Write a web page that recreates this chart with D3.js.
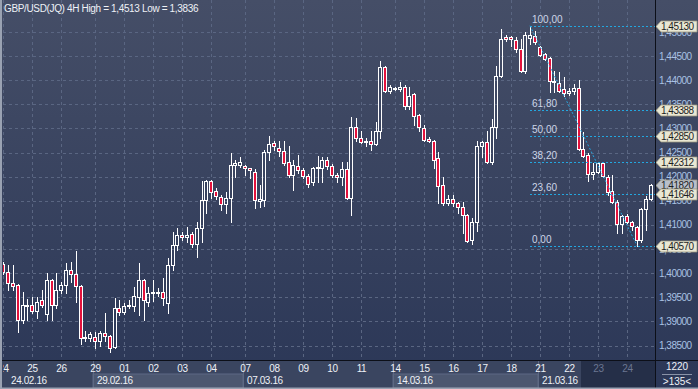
<!DOCTYPE html>
<html>
<head>
<meta charset="utf-8">
<script src="https://cdnjs.cloudflare.com/ajax/libs/d3/7.8.5/d3.min.js"></script>
<style>
html, body { margin: 0; padding: 0; background: #2e3a56; }
svg { display: block; font-family: "Liberation Sans", Arial, sans-serif; }
</style>
</head>
<body>
<div id="chart"></div>
<script>
// GBP/USD 4H candles
const opens = [
  1.4019,1.4002,1.3979,1.3975,1.3902,1.3933,1.3933,1.3921,1.3944,1.3915,
  1.3985,1.3933,1.3965,1.3975,1.4006,1.3998,1.3973,1.3867,1.3865,1.3867,
  1.3860,1.3875,1.3869,1.3846,1.3927,1.3919,1.3931,1.3931,1.3950,1.3985,
  1.3940,1.3960,1.3960,1.3960,1.3938,1.4017,1.4058,1.4079,1.4075,1.4081,
  1.4060,1.4094,1.4152,1.4192,1.4171,1.4158,1.4144,1.4156,1.4225,1.4225,
  1.4223,1.4217,1.4210,1.4150,1.4152,1.4252,1.4269,1.4260,1.4254,1.4231,
  1.4204,1.4223,1.4213,1.4202,1.4188,1.4219,1.4219,1.4235,1.4223,1.4204,
  1.4200,1.4215,1.4156,1.4302,1.4281,1.4273,1.4275,1.4267,1.4294,1.4427,
  1.4377,1.4383,1.4381,1.4387,1.4346,1.4371,1.4327,1.4300,1.4279,1.4273,
  1.4238,1.4183,1.4146,1.4154,1.4146,1.4138,1.4121,1.4069,1.4106,1.4263,
  1.4271,1.4231,1.4302,1.4408,1.4490,1.4490,1.4483,1.4465,1.4419,1.4488,
  1.4492,1.4469,1.4454,1.4446,1.4396,1.4394,1.4381,1.4373,1.4377,1.4383,
  1.4258,1.4246,1.4206,1.4210,1.4229,1.4200,1.4171,1.4148,1.4102,1.4119,
  1.4106,1.4096,1.4069,1.4133,1.4154
];
const highs = [
  1.4023,1.4017,1.4017,1.3977,1.3960,1.3946,1.3950,1.3950,1.3965,1.4000,
  1.3987,1.4000,1.3981,1.4021,1.4023,1.4046,1.3975,1.3881,1.3879,1.3877,
  1.3881,1.3917,1.3871,1.3948,1.3944,1.3938,1.3944,1.3971,1.4021,1.3987,
  1.3971,1.3985,1.3969,1.3990,1.4031,1.4085,1.4094,1.4085,1.4096,1.4085,
  1.4106,1.4192,1.4194,1.4194,1.4177,1.4163,1.4169,1.4250,1.4235,1.4240,
  1.4225,1.4219,1.4215,1.4183,1.4256,1.4285,1.4273,1.4273,1.4273,1.4263,
  1.4235,1.4246,1.4217,1.4206,1.4221,1.4242,1.4240,1.4240,1.4227,1.4208,
  1.4231,1.4231,1.4323,1.4321,1.4294,1.4281,1.4294,1.4313,1.4440,1.4429,
  1.4390,1.4387,1.4396,1.4390,1.4385,1.4373,1.4329,1.4308,1.4283,1.4277,
  1.4252,1.4200,1.4163,1.4163,1.4148,1.4148,1.4123,1.4115,1.4273,1.4273,
  1.4294,1.4319,1.4429,1.4506,1.4494,1.4492,1.4490,1.4485,1.4500,1.4513,
  1.4502,1.4471,1.4456,1.4448,1.4419,1.4417,1.4406,1.4383,1.4392,1.4400,
  1.4292,1.4250,1.4229,1.4231,1.4231,1.4204,1.4204,1.4152,1.4121,1.4123,
  1.4108,1.4098,1.4135,1.4160,1.4185
];
const lows = [
  1.3998,1.3965,1.3965,1.3879,1.3896,1.3902,1.3917,1.3908,1.3929,1.3902,
  1.3902,1.3927,1.3958,1.3958,1.3981,1.3940,1.3854,1.3860,1.3860,1.3844,
  1.3850,1.3860,1.3836,1.3844,1.3913,1.3915,1.3927,1.3921,1.3913,1.3902,
  1.3931,1.3942,1.3952,1.3933,1.3917,1.4006,1.4048,1.4069,1.4065,1.4054,
  1.4033,1.4065,1.4125,1.4156,1.4154,1.4131,1.4125,1.4106,1.4200,1.4221,
  1.4204,1.4198,1.4135,1.4138,1.4140,1.4235,1.4256,1.4242,1.4225,1.4200,
  1.4173,1.4208,1.4198,1.4179,1.4183,1.4188,1.4190,1.4215,1.4200,1.4190,
  1.4183,1.4154,1.4121,1.4275,1.4269,1.4263,1.4256,1.4265,1.4281,1.4375,
  1.4373,1.4379,1.4377,1.4340,1.4340,1.4308,1.4294,1.4273,1.4271,1.4219,
  1.4146,1.4142,1.4142,1.4140,1.4125,1.4083,1.4065,1.4060,1.4088,1.4240,
  1.4229,1.4227,1.4281,1.4406,1.4481,1.4471,1.4458,1.4417,1.4415,1.4475,
  1.4475,1.4450,1.4442,1.4375,1.4375,1.4375,1.4367,1.4369,1.4371,1.4256,
  1.4240,1.4192,1.4196,1.4208,1.4200,1.4163,1.4146,1.4083,1.4083,1.4104,
  1.4090,1.4057,1.4065,1.4090,1.4152
];
const closes = [
  1.4002,1.3979,1.3973,1.3902,1.3933,1.3935,1.3921,1.3940,1.3935,1.3985,
  1.3933,1.3965,1.3975,1.4006,1.3998,1.3973,1.3865,1.3866,1.3873,1.3860,
  1.3875,1.3869,1.3844,1.3927,1.3919,1.3931,1.3933,1.3952,1.3985,1.3944,
  1.3958,1.3961,1.3961,1.3948,1.4017,1.4058,1.4079,1.4075,1.4079,1.4060,
  1.4094,1.4152,1.4192,1.4169,1.4160,1.4144,1.4156,1.4225,1.4229,1.4231,
  1.4217,1.4213,1.4152,1.4153,1.4252,1.4267,1.4263,1.4254,1.4229,1.4204,
  1.4225,1.4213,1.4202,1.4185,1.4219,1.4220,1.4235,1.4223,1.4204,1.4200,
  1.4215,1.4156,1.4302,1.4281,1.4271,1.4274,1.4267,1.4294,1.4427,1.4377,
  1.4385,1.4384,1.4387,1.4346,1.4367,1.4325,1.4304,1.4277,1.4273,1.4235,
  1.4181,1.4146,1.4154,1.4146,1.4138,1.4121,1.4067,1.4106,1.4263,1.4271,
  1.4231,1.4302,1.4408,1.4485,1.4485,1.4485,1.4465,1.4419,1.4494,1.4494,
  1.4479,1.4452,1.4444,1.4398,1.4398,1.4377,1.4373,1.4377,1.4383,1.4258,
  1.4242,1.4206,1.4210,1.4229,1.4202,1.4169,1.4148,1.4102,1.4119,1.4106,
  1.4098,1.4069,1.4133,1.4154,1.4182
];

const yTicks = [1.385,1.39,1.395,1.40,1.405,1.41,1.415,1.42,1.425,1.43,1.435,1.44,1.445,1.45];

const dayLabels = ["24","25","26","29","01","02","03","04","07","08","09","10","11","14","15","16","17","18","21","22","23","24"];
const dayIndex  = [0,6,12,19,25,31,37,43,50,56,62,68,74,81,87,93,99,105,111,117,123,129];

const weekLabels = ["24.02.16","29.02.16","07.03.16","14.03.16","21.03.16"];
const weekIndex  = [0,19,50,81,111];

// fibonacci retracement drawn from the high candle to the low candle
const fibNames  = ["100,00","61,80","50,00","38,20","23,60","0,00"];
const fibPrices = [1.45130,1.43388,1.42850,1.42312,1.41646,1.40570];
const fibFrom = 109, fibTo = 131;
const lastPrice = 1.41820;
const scrollFrom = 120;

const W = 698, H = 389;
const plotL = 3, plotR = 655, plotB = 360;

const svg = d3.select("#chart").append("svg")
  .attr("width", W)
  .attr("height", H);

const defs = svg.append("defs");
const grad = defs.append("linearGradient")
  .attr("id", "bg")
  .attr("x1", 0).attr("y1", 0).attr("x2", 0).attr("y2", 1);
grad.append("stop").attr("offset", "0%").attr("stop-color", "#454e67");
grad.append("stop").attr("offset", "100%").attr("stop-color", "#2b3757");

defs.append("clipPath").attr("id", "plotClip")
  .append("rect")
  .attr("x", plotL).attr("y", 0)
  .attr("width", plotR - plotL).attr("height", plotB);

defs.append("clipPath").attr("id", "axisClip")
  .append("rect")
  .attr("x", plotL).attr("y", plotB)
  .attr("width", plotR - plotL).attr("height", H - plotB);

svg.append("rect")
  .attr("width", W).attr("height", H)
  .attr("fill", "url(#bg)");

const x = d3.scaleBand()
  .domain(d3.range(closes.length))
  .range([0.9, 653.5]);
const cx = i => Math.round(x(i) + x.bandwidth() / 2);
const y = d3.scaleLinear()
  .domain([1.385, 1.45])
  .range([345.5, 32]);
const py = v => Math.round(y(v));

const fmt = d3.format(".5f");
const comma = v => fmt(v).replace(".", ",");

// grid
const grid = svg.append("g")
  .attr("clip-path", "url(#plotClip)")
  .attr("stroke", "#5a6682")
  .attr("stroke-dasharray", "3,3")
  .attr("stroke-width", 1);

grid.selectAll("line.h")
  .data(yTicks)
  .enter()
  .append("line")
  .attr("class", "h")
  .attr("x1", plotL).attr("x2", plotR)
  .attr("y1", d => py(d) + 0.5)
  .attr("y2", d => py(d) + 0.5);

grid.selectAll("line.v")
  .data(dayIndex)
  .enter()
  .append("line")
  .attr("class", "v")
  .attr("x1", d => cx(d) + 0.5)
  .attr("x2", d => cx(d) + 0.5)
  .attr("y1", 0).attr("y2", plotB);

// candles
const candles = d3.range(closes.length).map(i => ({
  i: i, o: opens[i], h: highs[i], l: lows[i], c: closes[i]
}));

const cg = svg.append("g").attr("clip-path", "url(#plotClip)");

const bodyTop = d => py(Math.max(d.o, d.c));
const bodyBot = d => Math.max(py(Math.min(d.o, d.c)), bodyTop(d) + 1);

cg.selectAll("line.wickUp")
  .data(candles)
  .enter()
  .append("line")
  .attr("x1", d => cx(d.i) + 0.5)
  .attr("x2", d => cx(d.i) + 0.5)
  .attr("y1", d => py(d.h))
  .attr("y2", d => bodyTop(d))
  .attr("stroke", "#ffffff")
  .attr("stroke-width", 1);

cg.selectAll("line.wickDown")
  .data(candles)
  .enter()
  .append("line")
  .attr("x1", d => cx(d.i) + 0.5)
  .attr("x2", d => cx(d.i) + 0.5)
  .attr("y1", d => bodyBot(d))
  .attr("y2", d => py(d.l) + 1)
  .attr("stroke", "#ffffff")
  .attr("stroke-width", 1);

cg.selectAll("rect.body")
  .data(candles)
  .enter()
  .append("rect")
  .attr("x", d => cx(d.i) - 1.5)
  .attr("width", 3)
  .attr("y", d => bodyTop(d) + 0.5)
  .attr("height", d => bodyBot(d) - bodyTop(d))
  .attr("fill", d => d.c < d.o ? "#e3123c" : "none")
  .attr("stroke", "#ffffff")
  .attr("stroke-width", 1);

// fibonacci lines
const fib = svg.append("g");
fib.selectAll("line")
  .data(fibPrices)
  .enter()
  .append("line")
  .attr("x1", cx(fibFrom))
  .attr("x2", plotR)
  .attr("y1", d => py(d) + 0.5)
  .attr("y2", d => py(d) + 0.5)
  .attr("stroke", "#23a7e0")
  .attr("stroke-dasharray", "2,2");

fib.append("line")
  .attr("x1", cx(fibFrom)).attr("y1", y(fibPrices[0]))
  .attr("x2", cx(fibTo)).attr("y2", y(fibPrices[fibPrices.length - 1]))
  .attr("stroke", "#23a7e0")
  .attr("stroke-dasharray", "2,2");

fib.selectAll("text")
  .data(fibNames)
  .enter()
  .append("text")
  .attr("x", cx(fibFrom) + 2)
  .attr("y", (d, i) => py(fibPrices[i]) - 3)
  .attr("fill", "#cdd6e8")
  .attr("font-size", "10px")
  .text(d => d);

// x axis area
svg.append("rect")
  .attr("x", 0).attr("y", plotB)
  .attr("width", plotR).attr("height", H - plotB)
  .attr("fill", "#3a4560");

svg.selectAll("rect.week")
  .data(weekIndex)
  .enter()
  .append("rect")
  .attr("x", d => cx(d) - 2)
  .attr("y", 374)
  .attr("width", (d, i) => (i + 1 < weekIndex.length ? cx(weekIndex[i + 1]) - 2 : cx(scrollFrom) - 2) - (cx(d) - 2))
  .attr("height", 14)
  .attr("fill", (d, i) => i % 2 === 1 ? "#4c5770" : "none")
  .attr("stroke", (d, i) => i % 2 === 1 ? "#5d6983" : "none");

svg.selectAll("line.weekSep")
  .data(weekIndex.slice(1))
  .enter()
  .append("line")
  .attr("x1", d => cx(d) - 1.5)
  .attr("x2", d => cx(d) - 1.5)
  .attr("y1", plotB).attr("y2", 388)
  .attr("stroke", "#5d6983");

svg.append("rect")
  .attr("x", cx(scrollFrom) - 2).attr("y", plotB + 1)
  .attr("width", plotR - cx(scrollFrom) + 2).attr("height", H - plotB - 2)
  .attr("fill", "#252f48");

svg.append("g")
  .attr("clip-path", "url(#axisClip)")
  .selectAll("text")
  .data(dayLabels)
  .enter()
  .append("text")
  .attr("x", (d, i) => cx(dayIndex[i]) + 0.5)
  .attr("y", 372)
  .attr("text-anchor", "middle")
  .attr("font-size", "10px")
  .attr("letter-spacing", "-0.4px")
  .attr("fill", (d, i) => dayIndex[i] >= scrollFrom ? "#6b7691" : "#eef1f6")
  .text(d => d);

svg.selectAll("text.week")
  .data(weekLabels)
  .enter()
  .append("text")
  .attr("x", (d, i) => i === 0 ? 11 : cx(weekIndex[i]) + 2)
  .attr("y", 384)
  .attr("font-size", "10px")
  .attr("letter-spacing", "-0.4px")
  .attr("fill", "#eef1f6")
  .text(d => d);

// right price axis
svg.selectAll("text.ytick")
  .data(yTicks)
  .enter()
  .append("text")
  .attr("x", 659)
  .attr("y", d => y(d) + 3.5)
  .attr("font-size", "10px")
  .attr("letter-spacing", "-0.5px")
  .attr("fill", "#a9c2e4")
  .text(d => comma(d));

// price flags: the last price sits under the 23,60 flag
const flags = fibPrices.map(v => ({ v: v, fill: "#e9e7d3" }));
flags.splice(4, 0, { v: lastPrice, fill: "#b9bfca" });

const fg = svg.selectAll("g.flag")
  .data(flags)
  .enter()
  .append("g")
  .attr("transform", d => `translate(0,${py(d.v) + 0.5})`);

fg.append("path")
  .attr("d", "M656,0 L661,-5.5 L697,-5.5 L697,5.5 L661,5.5 Z")
  .attr("fill", d => d.fill)
  .attr("stroke", "#9a9882")
  .attr("stroke-width", 0.8);

fg.append("text")
  .attr("x", 661)
  .attr("y", 3.6)
  .attr("font-size", "10px")
  .attr("letter-spacing", "-0.5px")
  .attr("fill", "#1e1e1e")
  .text(d => comma(d.v));

// frame lines
svg.append("line")
  .attr("x1", 0).attr("x2", W)
  .attr("y1", plotB + 0.5).attr("y2", plotB + 0.5)
  .attr("stroke", "#0c0f18");
svg.append("line")
  .attr("x1", plotR + 0.5).attr("x2", plotR + 0.5)
  .attr("y1", 0).attr("y2", H)
  .attr("stroke", "#0c0f18");
svg.append("rect")
  .attr("x", 0).attr("y", 0)
  .attr("width", 2).attr("height", H)
  .attr("fill", "#9aa2b2");
svg.append("rect")
  .attr("x", 0).attr("y", H - 1.5)
  .attr("width", W).attr("height", 1.5)
  .attr("fill", "#9aa2b2");

// bottom right counter
svg.append("text")
  .attr("x", 677).attr("y", 370)
  .attr("text-anchor", "middle")
  .attr("font-size", "10px")
  .attr("fill", "#eef1f6")
  .text("1220");
svg.append("line")
  .attr("x1", 662).attr("x2", 692)
  .attr("y1", 374.5).attr("y2", 374.5)
  .attr("stroke", "#8a93a8");
svg.append("text")
  .attr("x", 677).attr("y", 385)
  .attr("text-anchor", "middle")
  .attr("font-size", "10px")
  .attr("fill", "#eef1f6")
  .text(">135<");

// title
svg.append("text")
  .attr("x", 4).attr("y", 12)
  .attr("font-size", "10px")
  .attr("letter-spacing", "-0.35px")
  .attr("fill", "#eef1f6")
  .text("GBP/USD(JQ) 4H High = 1,4513 Low = 1,3836");
</script>
</body>
</html>
